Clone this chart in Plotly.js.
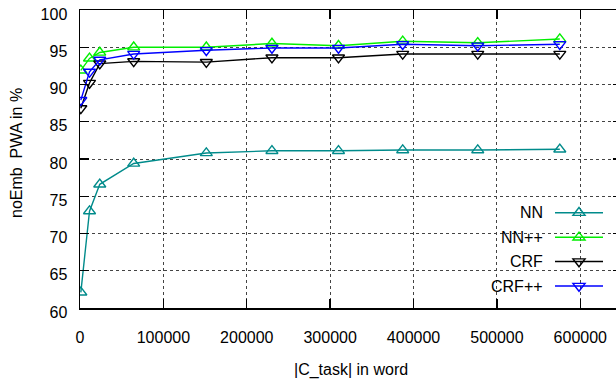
<!DOCTYPE html>
<html><head><meta charset="utf-8">
<script src="https://cdn.plot.ly/plotly-3.0.1.min.js"></script>
<style>html,body{margin:0;padding:0;overflow:hidden;background:#fff;width:616px;height:386px}#c{width:632px;height:386px}</style>
</head><body><div id="c"></div><script>
// ---- data ----
const taskSize = [1000, 11400, 23700, 64400, 151500, 230200, 310000, 387000, 477000, 575400];
const nnVals    = [62.1, 73.0, 76.6, 79.4, 80.8, 81.1, 81.1, 81.2, 81.2, 81.3];
const nnppVals  = [91.9, 93.5, 94.3, 95.0, 95.0, 95.5, 95.2, 95.8, 95.6, 96.1];
const crfVals   = [86.8, 90.2, 92.8, 93.1, 93.0, 93.6, 93.6, 94.1, 94.1, 94.1];
const crfppVals = [87.9, 91.7, 93.3, 94.1, 94.6, 94.9, 94.9, 95.4, 95.2, 95.4];
const seriesNames = ['NN', 'NN++', 'CRF', 'CRF++'];
const xTickVals = [0, 100000, 200000, 300000, 400000, 500000, 600000];
const xTickText = ['0', '100000', '200000', '300000', '400000', '500000', '600000'];
const yTickVals = [60, 65, 70, 75, 80, 85, 90, 95, 100];

// ---- style ----
const colors = ['#008b8b', '#00ee00', '#000000', '#0000ff'];
const symbols = ['triangle-up-open', 'triangle-up-open', 'triangle-down-open', 'triangle-down-open'];
const allVals = [nnVals, nnppVals, crfVals, crfppVals];
const FONT = 'Liberation Sans, Arial, sans-serif';

const traces = allVals.map((v, i) => ({
  x: taskSize, y: v, name: seriesNames[i], type: 'scatter', mode: 'lines+markers',
  line: {color: colors[i], width: 1.4},
  marker: {symbol: symbols[i], size: 10.5, color: colors[i], line: {color: colors[i], width: 1.4}},
  showlegend: false
}));

// plot area in pixels
const L = 80, T = 10, W = 542, H = 298;
const px = p => (p - L) / W;
const py = p => (T + H - p) / H;

const shapes = [], annotations = [];
const legRows = [212.7, 237.3, 261.5, 286];
seriesNames.forEach((n, i) => {
  const yy = legRows[i];
  shapes.push({type: 'line', xref: 'paper', yref: 'paper', x0: px(555), x1: px(603), y0: py(yy), y1: py(yy),
    line: {color: colors[i], width: 1.4}});
  const r = 5.25, rt = r * 2 / Math.sqrt(3), rs = r / 2, cx = 579;
  let pts;
  if (i < 2) pts = [[cx - rt, yy + rs], [cx + rt, yy + rs], [cx, yy - r]];
  else pts = [[cx - rt, yy - rs], [cx + rt, yy - rs], [cx, yy + r]];
  const path = 'M' + pts.map(p => px(p[0]) + ',' + py(p[1])).join(' L') + ' Z';
  shapes.push({type: 'path', xref: 'paper', yref: 'paper', path: path, fillcolor: 'rgba(0,0,0,0)',
    line: {color: colors[i], width: 1.4}});
  annotations.push({xref: 'paper', yref: 'paper', x: px(545), y: py(yy), xanchor: 'right', yanchor: 'middle',
    text: n, showarrow: false, font: {family: FONT, size: 16, color: '#000'}});
});
annotations.push({xref: 'paper', yref: 'paper', x: px(351), y: py(370), xanchor: 'center', yanchor: 'middle',
  text: '|C_task| in word', showarrow: false, font: {family: FONT, size: 16, color: '#000'}});
annotations.push({xref: 'paper', yref: 'paper', x: px(16), y: py(153), xanchor: 'center', yanchor: 'middle',
  text: 'noEmb&nbsp;&nbsp;PWA in %', textangle: -90, showarrow: false, font: {family: FONT, size: 16, color: '#000'}});

const axisCommon = {
  showline: true, linecolor: '#000', linewidth: 1.5, mirror: 'ticks',
  ticks: 'inside', ticklen: 9, tickwidth: 1.3, tickcolor: '#000',
  showgrid: true, gridcolor: '#444', gridwidth: 1, griddash: 'dot', zeroline: false,
  tickfont: {family: FONT, size: 16, color: '#000'}
};

const layout = {
  width: 632, height: 386,
  margin: {l: L, r: 632 - L - W, t: T, b: 386 - T - H},
  paper_bgcolor: '#fff', plot_bgcolor: '#fff',
  showlegend: false,
  xaxis: Object.assign({}, axisCommon, {range: [0, 650000], tickvals: xTickVals, ticktext: xTickText, ticklabelstandoff: 14}),
  yaxis: Object.assign({}, axisCommon, {range: [60, 100], tickvals: yTickVals, ticklabelstandoff: 8, ticklabelshift: 4}),
  shapes: shapes, annotations: annotations
};

Plotly.newPlot('c', traces, layout, {displayModeBar: false, staticPlot: true});
</script></body></html>
